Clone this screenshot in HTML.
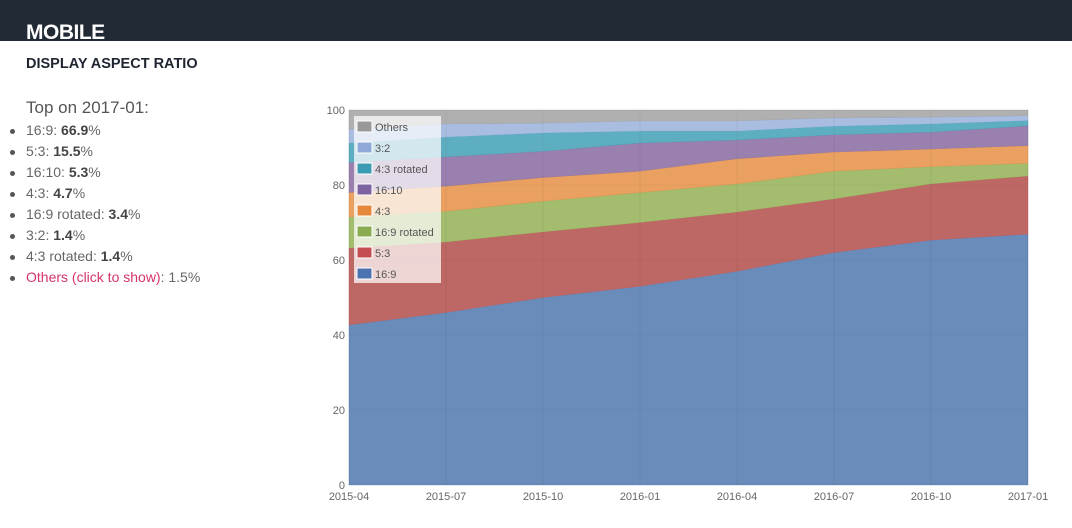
<!DOCTYPE html>
<html><head><meta charset="utf-8"><style>
body{margin:0;width:1072px;height:528px;background:#fff;font-family:"Liberation Sans",sans-serif;overflow:hidden;position:relative}
#hdr{position:absolute;left:0;top:0;width:1072px;height:41px;background:#222a35;overflow:hidden}
#hdr span{position:absolute;left:26px;top:21px;color:#fff;font-weight:bold;font-size:21px;letter-spacing:-0.5px}
#sub{position:absolute;left:26px;top:56px;font-weight:bold;font-size:14.5px;color:#1e2530}
#top{position:absolute;left:26px;top:98px;font-size:17px;color:#555}
ul{position:absolute;left:8px;top:120px;margin:0;padding:0;list-style:none;font-size:14px;color:#666}
li{height:21px;line-height:21px;padding-left:18px;position:relative}
li:before{content:"";position:absolute;left:2px;top:9px;width:5px;height:5px;border-radius:50%;background:#555}
li b{color:#444}
li a{color:#d6336c;text-decoration:none}
</style></head><body>
<div id="hdr"><span>MOBILE</span></div>
<div id="sub">DISPLAY ASPECT RATIO</div>
<div id="top">Top on 2017-01:</div>
<ul>
<li>16:9: <b>66.9</b>%</li>
<li>5:3: <b>15.5</b>%</li>
<li>16:10: <b>5.3</b>%</li>
<li>4:3: <b>4.7</b>%</li>
<li>16:9 rotated: <b>3.4</b>%</li>
<li>3:2: <b>1.4</b>%</li>
<li>4:3 rotated: <b>1.4</b>%</li>
<li><a href="#">Others (click to show)</a>: 1.5%</li>
</ul>
<svg id="chart" width="1072" height="528" style="position:absolute;left:0;top:0"></svg>
<script>
const categories=["2015-04","2015-07","2015-10","2016-01","2016-04","2016-07","2016-10","2017-01"];
const seriesNames=["16:9","5:3","16:9 rotated","4:3","16:10","4:3 rotated","3:2","Others"];
const s169=[42.7,46,50,53,57,62,65.3,66.9];
const s53=[20.5,18.8,17.5,17,15.8,14.3,15,15.5];
const s169r=[8.3,8.2,8.2,8,7.5,7.4,4.6,3.4];
const s43=[6.5,6.7,6.3,5.7,6.7,5.1,4.7,4.7];
const s1610=[8,7.8,7,7.5,5,4.6,4.5,5.3];
const s43r=[5.2,5.3,4.9,3.2,2.4,2.3,2.2,1.4];
const s32=[3.7,3.5,2.6,2.7,2.7,2.2,1.8,1.3];
const sOther=[5.1,3.7,3.5,2.9,2.9,2.1,1.9,1.5];
const yTicks=[0,20,40,60,80,100];
const series=[s169,s53,s169r,s43,s1610,s43r,s32,sOther];
const fills=["#6a8cba","#bd6864","#a3bc6e","#e9a060","#9a80ae","#5eaec1","#a9bde0","#b0b0b0"];
const sw=["#4c72b0","#c44e52","#8aab4f","#e5883c","#7d63a0","#3a9bb3","#8fa9d9","#999"];
const ns="http://www.w3.org/2000/svg",svg=document.getElementById("chart");
const X0=349,X1=1028,Y0=485,Y1=110;
const x=i=>X0+(X1-X0)*i/(categories.length-1);
const y=v=>Y0-(Y0-Y1)*v/100;
function mk(t,a){const e=document.createElementNS(ns,t);for(const k in a)e.setAttribute(k,a[k]);svg.appendChild(e);return e;}
let base=categories.map(()=>0);
series.forEach((s,si)=>{
 const top=base.map((b,i)=>b+s[i]);
 let d="M"+top.map((v,i)=>x(i)+","+y(v)).join("L");
 for(let i=categories.length-1;i>=0;i--)d+="L"+x(i)+","+y(base[i]);
 const p=mk("path",{d:d+"Z",fill:fills[si],stroke:sw[si],"stroke-width":0.6,"stroke-opacity":0.5});
 
 
 base=top;
});
categories.forEach((c,i)=>{
 const l=mk("line",{x1:x(i),x2:x(i),y1:Y1,y2:Y0,stroke:"#000","stroke-opacity":0.05});
 
 
 const t=mk("text",{x:x(i),y:500,"text-anchor":"middle","font-size":11,fill:"#666"});
 t.textContent=c;
 
 
});
yTicks.forEach(v=>{
 const l=mk("line",{x1:X0,x2:X1,y1:y(v),y2:y(v),stroke:"#000","stroke-opacity":0.03});
 
 
 const t=mk("text",{x:345,y:y(v)+4,"text-anchor":"end","font-size":11,fill:"#666"});
 t.textContent=v;
 
 
});
const lg=mk("rect",{x:354,y:116,width:87,height:167,fill:"#fff","fill-opacity":0.72});


for(let k=0;k<8;k++){
 const si=7-k,yy=121+k*21;
 const r=mk("rect",{x:357,y:yy,width:15,height:11,fill:sw[si],stroke:"#fff","stroke-width":1});
 
 
 const t=mk("text",{x:375,y:yy+10,"font-size":11,fill:"#555"});
 t.textContent=seriesNames[si];
 
 
}
</script>
</body></html>
